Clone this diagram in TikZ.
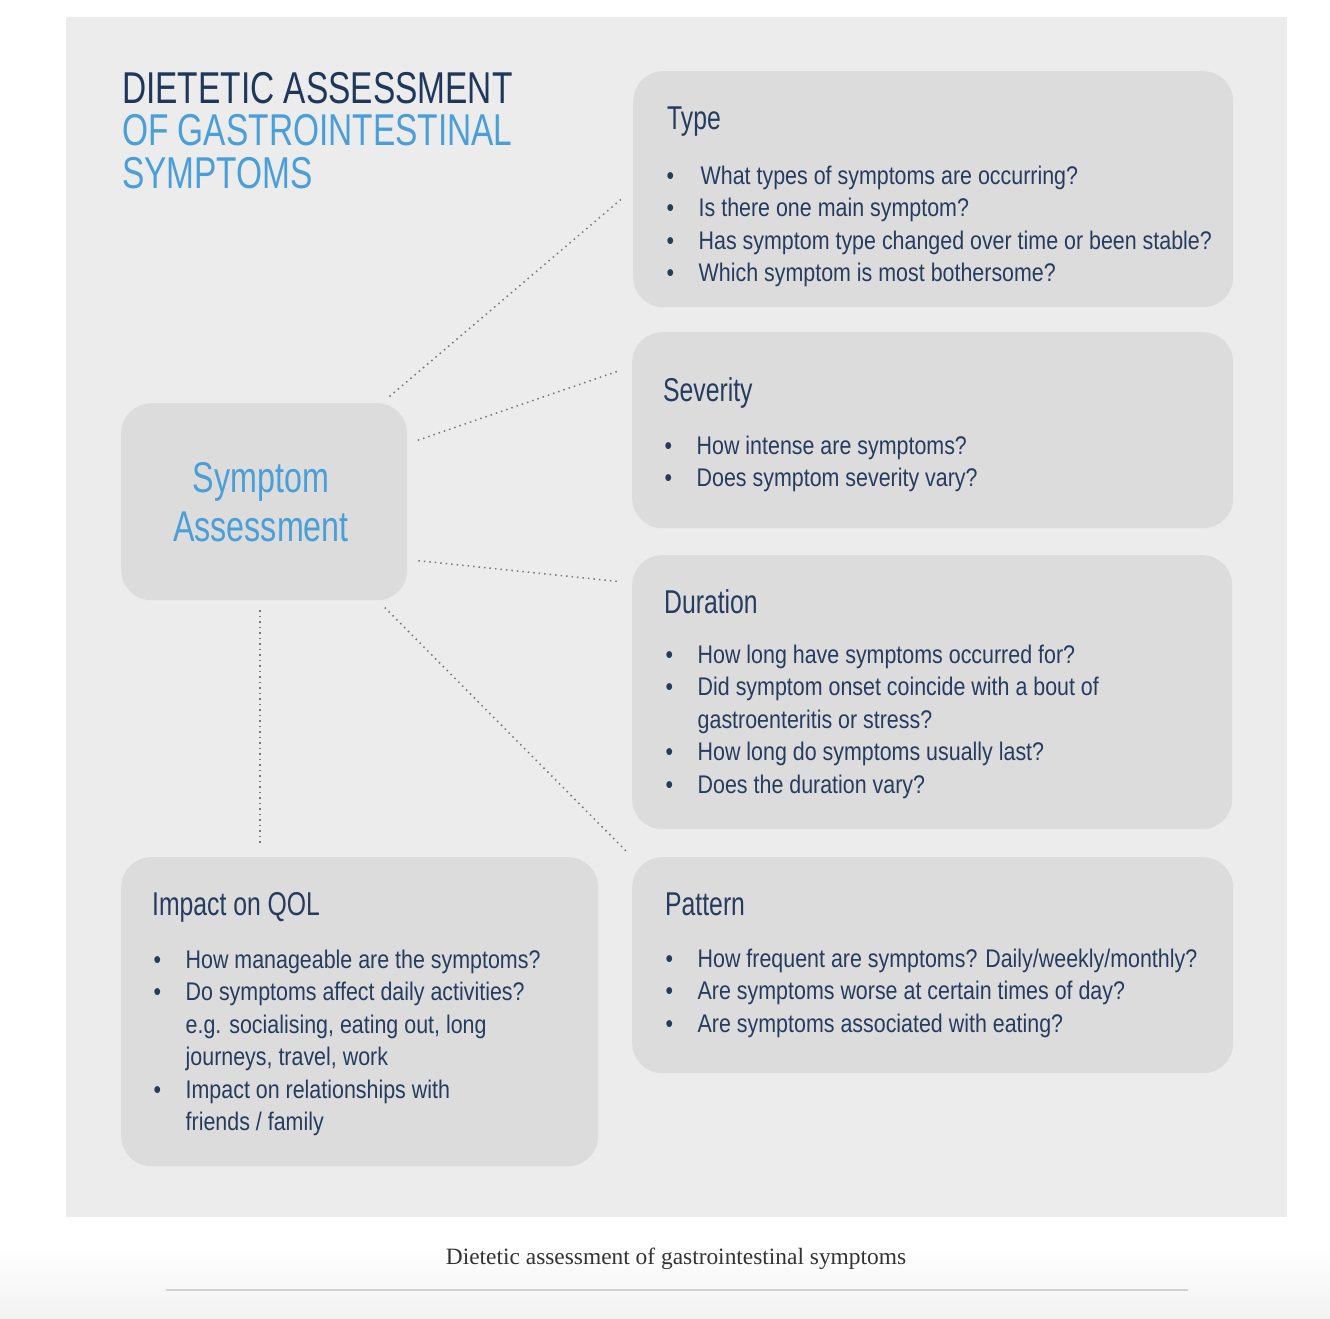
\documentclass[tikz,border=0pt]{standalone}
\usepackage{fontspec}
\setmainfont[FakeStretch=0.84]{Liberation Sans}
\newfontfamily\condfont[FakeStretch=0.75]{Liberation Sans}
\newfontfamily\capfont{Liberation Serif}
\definecolor{navyText}{RGB}{38,60,95}
\definecolor{titleNavy}{RGB}{30,55,90}
\definecolor{skyBlue}{RGB}{74,159,216}
\definecolor{cardGray}{RGB}{220,220,220}
\definecolor{panelGray}{RGB}{236,236,236}
\definecolor{dotGray}{RGB}{115,120,130}
\newcommand{\bul}{\makebox[32pt][l]{\textbullet}}
\newcommand{\cont}{\hspace*{32pt}}

\begin{document}
\begin{tikzpicture}[x=1pt,y=-1pt,
  card/.style={rectangle,fill=cardGray,rounded corners=30pt,anchor=north west,inner sep=0pt},
  heading/.style={anchor=base west,inner sep=0pt,text=navyText,font=\condfont\fontsize{33}{40}\selectfont},
  itemtext/.style={anchor=base west,inner sep=0pt,align=left,text=navyText,font=\fontsize{25.5}{32.5}\selectfont},
  link/.style={draw=dotGray,line width=1.5pt,dash pattern=on 1.5pt off 4pt}]
\useasboundingbox (0,0) rectangle (1330,1318);
% Background
\shade[top color=white,bottom color=black!5] (0,1245) rectangle (1330,1318);
\fill[panelGray] (66,17) rectangle (1287,1217);
% Title (anchored on its last line)
\node[anchor=base west,inner sep=0pt,align=left,font=\condfont\fontsize{44.6}{42.5}\selectfont] (title) at (122,188)
  {\color{titleNavy}DIETETIC ASSESSMENT\\\color{skyBlue}OF GASTROINTESTINAL\\\color{skyBlue}SYMPTOMS};
% Central node
\node[card,minimum width=286pt,minimum height=197pt] (sa) at (121,403) {};
\node[align=center,inner sep=0pt,anchor=base,text=skyBlue,font=\condfont\fontsize{43}{49}\selectfont] (saText) at (261,541) {Symptom\\Assessment};
% Question cards
\node[card,minimum width=600pt,minimum height=236pt] (type) at (633,71) {};
\node[card,minimum width=601pt,minimum height=196pt] (sev) at (632,332) {};
\node[card,minimum width=600pt,minimum height=274pt] (dur) at (632,555) {};
\node[card,minimum width=601pt,minimum height=216pt] (pat) at (632,857) {};
\node[card,minimum width=477pt,minimum height=309pt] (imp) at (121,857) {};
% Card headings
\node[heading] (typeHead) at (667,129) {Type};
\node[heading] (sevHead) at (663,401) {Severity};
\node[heading] (durHead) at (664,613) {Duration};
\node[heading] (patHead) at (665,915) {Pattern};
\node[heading] (impHead) at (152,915) {Impact on QOL};
% Card questions (anchored on the last line)
\node[itemtext] (typeList) at (666.5,281.5) {\bul\hspace{2pt}What types of symptoms are occurring?\\
  \bul Is there one main symptom?\\
  \bul Has symptom type changed over time or been stable?\\
  \bul Which symptom is most bothersome?};
\node[itemtext] (sevList) at (664.5,486.5) {\bul How intense are symptoms?\\
  \bul Does symptom severity vary?};
\node[itemtext] (durList) at (665.5,793) {\bul How long have symptoms occurred for?\\
  \bul Did symptom onset coincide with a bout of\\
  \cont gastroenteritis or stress?\\
  \bul How long do symptoms usually last?\\
  \bul Does the duration vary?};
\node[itemtext] (patList) at (665.5,1032) {\bul How frequent are symptoms? Daily/weekly/monthly?\\
  \bul Are symptoms worse at certain times of day?\\
  \bul Are symptoms associated with eating?};
\node[itemtext] (impList) at (153.5,1130.5) {\bul How manageable are the symptoms?\\
  \bul Do symptoms affect daily activities?\\
  \cont e.g. socialising, eating out, long\\
  \cont journeys, travel, work\\
  \bul Impact on relationships with\\
  \cont friends / family};
% Dotted connectors
\draw[link,shorten <=10pt,shorten >=13pt] (sa.40) -- (type.west);
\draw[link,shorten <=11pt,shorten >=15pt] (sa.22) -- (sev.168);
\draw[link,shorten <=11pt,shorten >=15pt] (sa.-22) -- (dur.160);
\draw[link,shorten <=10pt,shorten >=6pt] (sa.-41) -- (pat.north west);
\draw[link,shorten <=10pt,shorten >=12pt] ([xshift=-4pt]sa.south) -- ([xshift=-4pt]sa.south |- imp.north);
% Caption
\node[anchor=base,inner sep=0pt,text=black!80,font=\capfont\fontsize{23.4}{28}\selectfont] (caption) at (676,1264) {Dietetic assessment of gastrointestinal symptoms};
\draw[black!18,line width=1.5pt] (166,1290) -- (1188,1290);
\end{tikzpicture}
\end{document}
